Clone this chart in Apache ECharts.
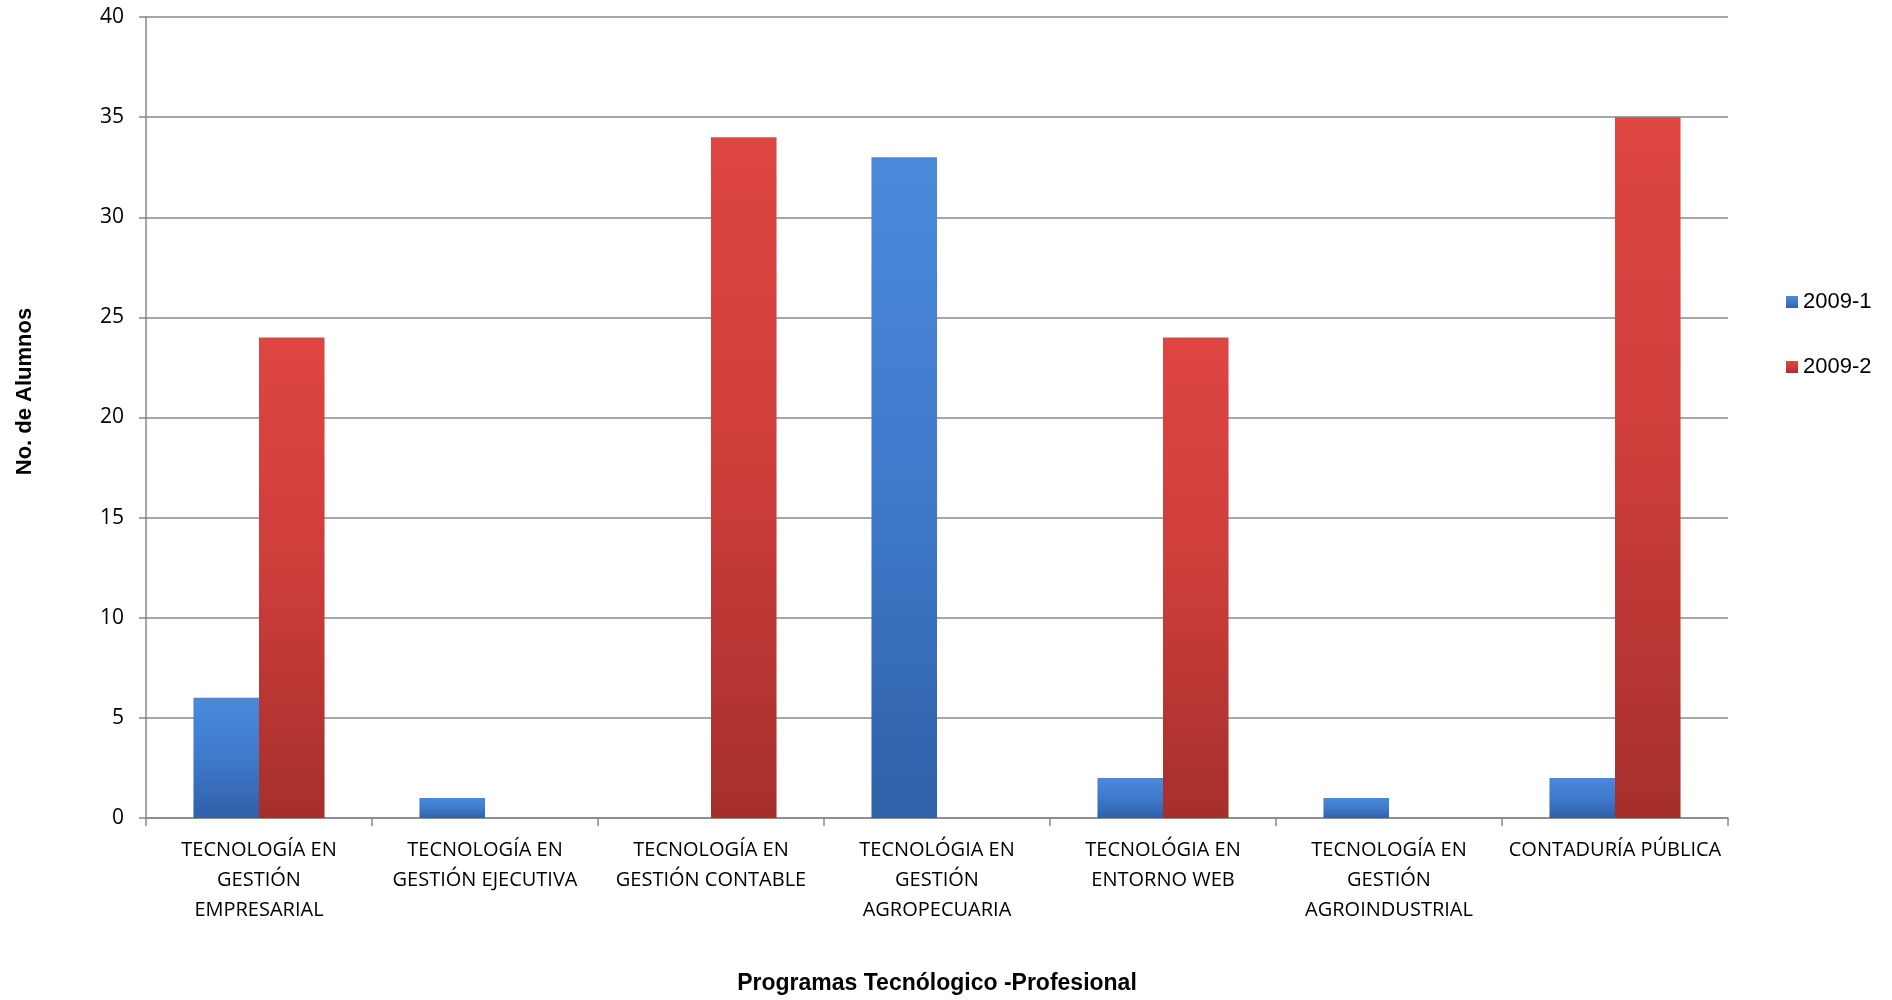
<!DOCTYPE html>
<html><head><meta charset="utf-8">
<script src="https://cdn.jsdelivr.net/npm/echarts@6/dist/echarts.min.js"></script>
<style>html,body{margin:0;padding:0;background:#fff}#c{width:1892px;height:1000px}</style>
</head><body><div id="c"></div>
<script>
const categories = ["TECNOLOGÍA EN\nGESTIÓN\nEMPRESARIAL","TECNOLOGÍA EN\nGESTIÓN EJECUTIVA","TECNOLOGÍA EN\nGESTIÓN CONTABLE","TECNOLÓGIA EN\nGESTIÓN\nAGROPECUARIA","TECNOLÓGIA EN\nENTORNO WEB","TECNOLOGÍA EN\nGESTIÓN\nAGROINDUSTRIAL","CONTADURÍA PÚBLICA"];
const seriesNames = ["2009-1","2009-2"];
const values2009_1 = [6,1,0,33,2,1,2];
const values2009_2 = [24,0,34,0,24,0,35];
const yTicks = {min:0,max:40,interval:5};

function grad(top, mid, bot){
  return {type:'linear',x:0,y:0,x2:0,y2:1,colorStops:[{offset:0,color:top},{offset:0.5,color:mid},{offset:1,color:bot}]};
}
const blue = grad('#4a89da','#3f7acb','#2f60a8');
const red = grad('#de4642','#cc3d3a','#a52f2c');

const chart = echarts.init(document.getElementById('c'));
chart.setOption({
  animation:false,
  grid:{left:146,right:164,top:17,bottom:180,containLabel:false},
  legend:{orient:'vertical',left:1781,top:286,itemGap:43,itemWidth:12,itemHeight:12,itemTextGap:4,
    icon:'rect',textStyle:{fontFamily:'Liberation Sans',fontSize:22,color:'#000'},
    data:seriesNames},
  xAxis:{type:'category',data:categories,
    axisLine:{lineStyle:{color:'#888',width:1.5}},
    axisTick:{show:true,length:8,lineStyle:{color:'#888',width:1.5}},
    axisLabel:{interval:0,fontFamily:'Open Sans',fontSize:20,color:'#000',lineHeight:30,margin:17},
    name:'Programas Tecnólogico -Profesional',nameLocation:'middle',nameGap:154,
    nameTextStyle:{fontFamily:'Liberation Sans',fontWeight:'bold',fontSize:23,color:'#000'}},
  yAxis:{type:'value',min:yTicks.min,max:yTicks.max,interval:yTicks.interval,
    axisLine:{show:true,lineStyle:{color:'#888',width:1.5}},
    axisTick:{show:true,length:7,lineStyle:{color:'#888',width:1.5}},
    splitLine:{lineStyle:{color:'#888',width:1.5}},
    axisLabel:{fontFamily:'Open Sans',fontSize:21,color:'#000',margin:22},
    name:'No. de Alumnos',nameLocation:'middle',nameGap:110,nameRotate:90,
    nameTextStyle:{fontFamily:'Liberation Sans',fontWeight:'bold',fontSize:22,color:'#000',padding:[0,0,0,52]}},
  series:[
    {name:seriesNames[0],type:'bar',data:values2009_1,barGap:'0%',barCategoryGap:'42%',
      itemStyle:{color:blue,borderWidth:0}},
    {name:seriesNames[1],type:'bar',data:values2009_2,barGap:'0%',barCategoryGap:'42%',
      itemStyle:{color:red,borderWidth:0}}
  ]
});
</script></body></html>
